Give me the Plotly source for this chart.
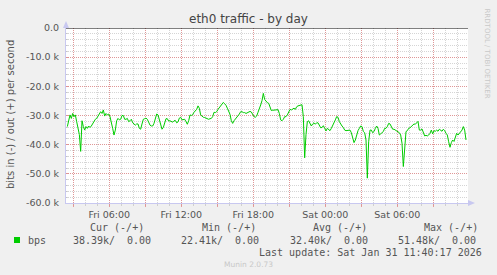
import plotly.graph_objects as go
import pandas as pd

# ---------------- data ----------------
start_time = pd.Timestamp("2026-01-30 02:30:10")   # first sample
step_seconds = 400
# bits in (shown negative), thousands of bits per second
bits_in_k = [
    -33.8, -32.1, -29.8, -31.0, -29.3, -30.4, -29.8, -32.1, -35.0, -36.5,
    -42.3, -31.8, -33.8, -35.0, -33.8, -34.4, -33.6, -34.1, -33.6, -32.7,
    -32.1, -31.3, -31.0, -30.2, -29.3, -28.7, -29.3, -28.1, -30.2, -29.3,
    -29.8, -29.5, -30.4, -32.1, -34.4, -36.7, -35.0, -31.8, -31.0, -31.5,
    -31.3, -30.0, -30.0, -31.3, -31.3, -31.0, -32.1, -31.8, -31.3, -32.5,
    -32.9, -33.3, -32.9, -32.9, -34.4, -34.7, -32.9, -31.3, -31.1, -30.9,
    -31.3, -32.5, -33.3, -33.6, -33.6, -32.7, -30.6, -29.5, -29.8, -31.5,
    -33.6, -34.7, -34.1, -32.6, -31.1, -31.1, -31.9, -31.8, -32.0, -32.3,
    -31.8, -31.7, -32.5, -32.2, -30.9, -30.6, -31.5, -31.5, -31.3, -32.1,
    -33.0, -31.8, -29.8, -30.0, -29.7, -28.9, -28.3, -27.9, -26.7, -27.5,
    -29.8, -30.3, -30.6, -30.7, -31.0, -31.1, -31.3, -31.1, -31.0, -30.4,
    -28.9, -29.0, -28.7, -27.9, -27.2, -26.7, -25.8, -25.5, -26.0, -26.5,
    -27.5, -28.5, -29.6, -31.8, -32.7, -31.8, -31.3, -30.6, -30.2, -29.5,
    -28.7, -28.7, -29.0, -29.0, -29.3, -29.1, -28.9, -28.6, -28.8, -29.7,
    -30.4, -30.6, -30.2, -28.9, -27.9, -26.4, -24.9, -22.41, -24.5, -25.1,
    -25.6, -25.8, -27.5, -28.3, -28.2, -28.1, -28.0, -28.1, -28.0, -29.3,
    -31.5, -31.8, -31.3, -30.4, -30.4, -29.8, -29.0, -27.9, -28.1, -27.9,
    -27.5, -27.9, -27.0, -26.7, -26.5, -26.3, -26.3, -30.4, -44.5, -36.5,
    -32.1, -31.8, -32.7, -33.6, -32.9, -32.5, -33.0, -32.5, -32.5, -33.3,
    -34.2, -34.1, -33.5, -34.4, -35.3, -34.4, -34.7, -35.2, -34.4, -33.6,
    -32.7, -31.5, -30.4, -30.6, -32.1, -33.0, -33.6, -34.1, -35.0, -35.2,
    -35.2, -35.2, -35.0, -35.9, -37.8, -39.3, -38.4, -36.3, -35.2, -34.4,
    -33.6, -33.8, -35.5, -35.9, -38.4, -51.48, -39.0, -35.0, -35.0, -35.9,
    -35.5, -34.4, -33.6, -34.4, -36.7, -36.3, -35.9, -35.5, -34.4, -34.4,
    -33.8, -32.7, -32.9, -33.8, -34.7, -34.7, -35.0, -35.2, -35.5, -35.9,
    -36.7, -39.5, -47.5, -39.5, -35.5, -35.2, -34.4, -34.2, -33.8, -33.6,
    -32.9, -33.0, -32.5, -32.0, -35.0, -35.0, -34.6, -35.9, -37.0, -36.8,
    -37.0, -36.7, -36.1, -35.0, -36.3, -35.2, -35.4, -35.0, -35.4, -34.7,
    -35.0, -35.4, -34.7, -35.2, -36.1, -36.7, -39.0, -40.9, -39.3, -38.4,
    -38.9, -37.3, -36.1, -36.7, -36.1, -35.5, -35.0, -33.8, -35.0, -38.39,
]
y_tick_values = [0, -10000, -20000, -30000, -40000, -50000, -60000]
y_tick_labels = ["0.0", "-10.0 k", "-20.0 k", "-30.0 k", "-40.0 k", "-50.0 k", "-60.0 k"]
x_tick_times = ["2026-01-30 03:00", "2026-01-30 06:00", "2026-01-30 09:00",
                "2026-01-30 12:00", "2026-01-30 15:00", "2026-01-30 18:00",
                "2026-01-30 21:00", "2026-01-31 00:00", "2026-01-31 03:00",
                "2026-01-31 06:00", "2026-01-31 09:00"]
x_tick_labels = ["", "Fri 06:00", "", "Fri 12:00", "", "Fri 18:00",
                 "", "Sat 00:00", "", "Sat 06:00", ""]
legend_headers = ["Cur (-/+)", "Min (-/+)", "Avg (-/+)", "Max (-/+)"]
legend_in = ["38.39k/", "22.41k/", "32.40k/", "51.48k/"]
legend_out = ["0.00", "0.00", "0.00", "0.00"]
series_name = "bps"
last_update = "Last update: Sat Jan 31 11:40:17 2026"

# ---------------- layout geometry ----------------
W, H = 497, 275
L, R, T, B = 66, 468, 28, 203
x_range = ["2026-01-30 02:23:30", "2026-01-31 11:53:30"]

def px(xp):
    return (xp - L) / (R - L)

def py(yp):
    return (B - yp) / (B - T)

times = [start_time + pd.Timedelta(seconds=step_seconds * i) for i in range(len(bits_in_k))]
bits_in = [v * 1000 for v in bits_in_k]

GREEN = "#00CC00"
TXT = "#555555"
MAJOR = "rgba(225,140,140,0.85)"
MINOR = "rgba(185,185,185,0.6)"
AXIS = "#C8C8F0"

fig = go.Figure()
fig.add_trace(go.Scatter(x=times, y=bits_in, mode="lines",
                         line=dict(color=GREEN, width=1), showlegend=False,
                         hoverinfo="skip"))

fig.update_layout(
    width=W, height=H,
    margin=dict(l=L, r=W - R, t=T, b=H - B),
    paper_bgcolor="#F0F0F0", plot_bgcolor="#FFFFFF",
    font=dict(family="DejaVu Sans", size=9.5, color=TXT),
    showlegend=False,
)
fig.update_xaxes(
    type="date", range=x_range,
    tickmode="array", tickvals=x_tick_times, ticktext=x_tick_labels,
    showgrid=True, gridcolor=MAJOR, griddash="1px,1px", gridwidth=1,
    ticks="outside", ticklen=3, tickcolor=MAJOR,
    minor=dict(dtick=3600000, tick0="2026-01-30 00:00", showgrid=True,
               gridcolor=MINOR, griddash="1px,1px", ticks="outside",
               ticklen=2, tickcolor=MINOR),
    showline=True, linecolor=AXIS, linewidth=1,
    zeroline=False, tickfont=dict(size=9.5, color=TXT),
    fixedrange=True,
)
fig.update_yaxes(
    range=[-60000, 0],
    tickmode="array", tickvals=y_tick_values, ticktext=y_tick_labels,
    showgrid=True, gridcolor=MAJOR, griddash="1px,1px", gridwidth=1,
    ticks="inside", ticklen=3, tickcolor=MAJOR,
    minor=dict(dtick=2000, tick0=0, showgrid=True, gridcolor=MINOR,
               griddash="1px,1px", ticks="inside", ticklen=2, tickcolor=MINOR),
    showline=True, linecolor=AXIS, linewidth=1,
    zeroline=False, tickfont=dict(size=9.5, color=TXT),
    ticklabelstandoff=4,
    fixedrange=True,
)

shapes = []
# zero line at top
shapes.append(dict(type="line", xref="paper", yref="y", x0=0, x1=1, y0=0, y1=0,
                   line=dict(color="#000000", width=1), layer="above"))
# axis arrows
shapes.append(dict(type="path", xref="paper", yref="paper",
                   path=f"M {px(63)} {py(28)} L {px(69)} {py(28)} L {px(66)} {py(21)} Z",
                   fillcolor=AXIS, line=dict(width=0)))
shapes.append(dict(type="path", xref="paper", yref="paper",
                   path=f"M {px(468)} {py(200)} L {px(468)} {py(206)} L {px(475)} {py(203)} Z",
                   fillcolor=AXIS, line=dict(width=0)))
# legend colour box
shapes.append(dict(type="rect", xref="paper", yref="paper",
                   x0=px(14), x1=px(20), y0=py(243), y1=py(237),
                   fillcolor=GREEN, line=dict(width=0)))
fig.update_layout(shapes=shapes)

ann = []
ann.append(dict(text="eth0 traffic - by day", x=px(248), y=py(19), xref="paper", yref="paper",
                showarrow=False, xanchor="center", yanchor="middle",
                font=dict(family="DejaVu Sans", size=12, color="#444444")))
ann.append(dict(text="bits in (-) / out (+) per second", x=px(10), y=py(115),
                xref="paper", yref="paper", showarrow=False, textangle=-90,
                xanchor="center", yanchor="middle",
                font=dict(family="DejaVu Sans", size=10, color=TXT)))
ann.append(dict(text="RRDTOOL / TOBI OETIKER", x=px(486.5), y=py(53),
                xref="paper", yref="paper", showarrow=False, textangle=90,
                xanchor="center", yanchor="middle",
                font=dict(family="DejaVu Sans", size=7, color="#C8C8C8")))
MONO = dict(family="DejaVu Sans Mono", size=10, color=TXT)
header_x = [89, 201, 312, 423]
in_x = [72, 180, 289, 397]
out_right = [152, 260, 369, 477]
for i in range(4):
    ann.append(dict(text=legend_headers[i], x=px(header_x[i]), y=py(227.5), xref="paper",
                    yref="paper", showarrow=False, xanchor="left", yanchor="middle",
                    font=MONO, borderpad=0))
    ann.append(dict(text=legend_in[i], x=px(in_x[i]), y=py(240), xref="paper",
                    yref="paper", showarrow=False, xanchor="left", yanchor="middle",
                    font=MONO, borderpad=0))
    ann.append(dict(text=legend_out[i], x=px(out_right[i]), y=py(240), xref="paper",
                    yref="paper", showarrow=False, xanchor="right", yanchor="middle",
                    font=MONO, borderpad=0))
ann.append(dict(text=series_name, x=px(26.5), y=py(240), xref="paper", yref="paper",
                showarrow=False, xanchor="left", yanchor="middle", font=MONO, borderpad=0))
ann.append(dict(text=last_update, x=px(483), y=py(252), xref="paper", yref="paper",
                showarrow=False, xanchor="right", yanchor="middle", font=MONO, borderpad=0))
ann.append(dict(text="Munin 2.0.73", x=px(248), y=py(264), xref="paper", yref="paper",
                showarrow=False, xanchor="center", yanchor="middle",
                font=dict(family="DejaVu Sans", size=7.5, color="#C8C8C8")))
fig.update_layout(annotations=ann)

fig.write_html("out.html")
